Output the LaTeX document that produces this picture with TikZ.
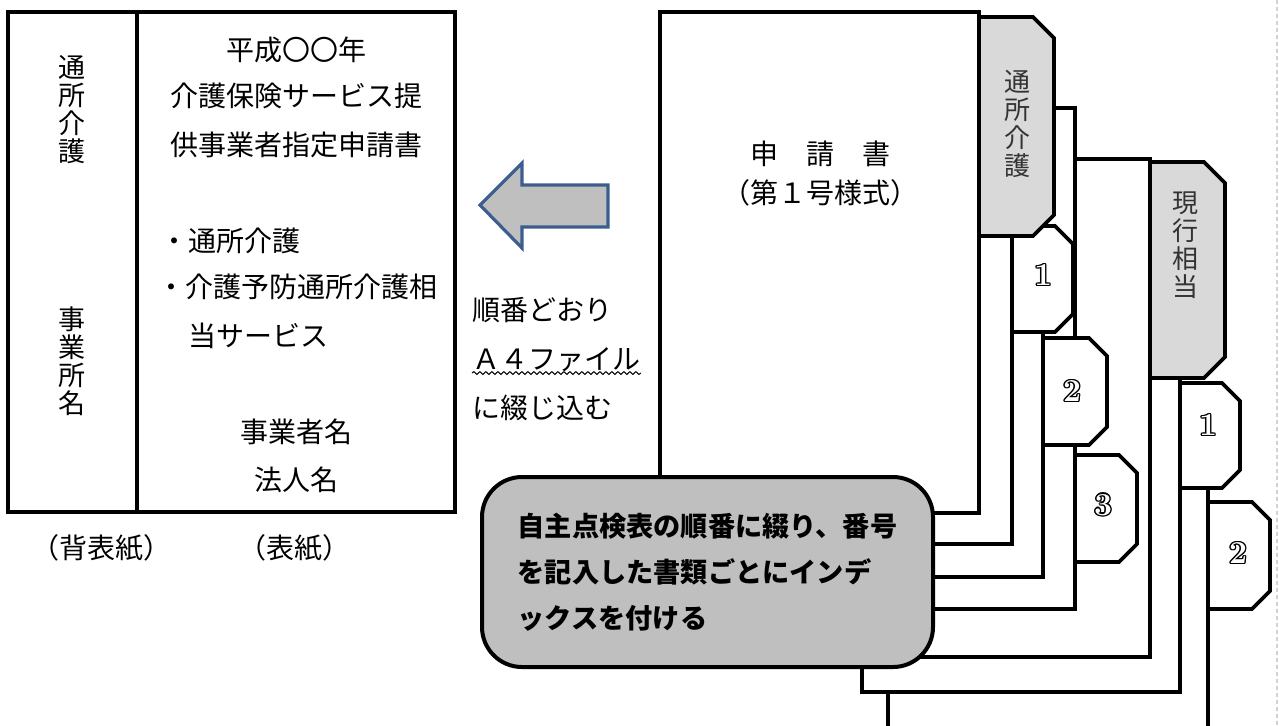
\documentclass[tikz,border=0pt]{standalone}
\usepackage{fontspec}
\newfontfamily\jp{Noto Sans CJK JP}
\usetikzlibrary{decorations.pathmorphing}
\definecolor{tabgray}{rgb}{.85,.85,.85}
\definecolor{notegray}{rgb}{.75,.75,.75}
\definecolor{arrowblue}{rgb}{.23,.37,.56}
\definecolor{tabink}{rgb}{.2,.2,.2}
% hollow digits for the small index tabs
\newcommand{\hollow}[1]{\leavevmode\rlap{\kern.7pt#1}\rlap{\kern-.7pt#1}%
  \rlap{\raisebox{.7pt}{#1}}\rlap{\raisebox{-.7pt}{#1}}%
  \rlap{\kern.5pt\raisebox{.5pt}{#1}}\rlap{\kern-.5pt\raisebox{.5pt}{#1}}%
  \rlap{\kern.5pt\raisebox{-.5pt}{#1}}\rlap{\kern-.5pt\raisebox{-.5pt}{#1}}%
  \textcolor{white}{#1}}
% tab with cut corners: [fill] left top right bottom cut
\newcommand{\idxtab}[6][white]{%
  \draw[line width=1.8pt, fill=#1] (#2,#3) -- ({#4-#6},#3) -- (#4,{#3+#6})
    -- (#4,{#5-#6}) -- ({#4-#6},#5) -- (#2,#5) -- cycle;}

\begin{document}
\begin{tikzpicture}[x=0.5pt, y=-0.5pt,
  every node/.style={inner sep=0pt},
  jptext/.style={font=\jp\fontsize{14}{14}\selectfont},
  spine/.style={font=\jp\fontsize{13.5}{14}\selectfont, align=center},
  tabtext/.style={font=\jp\fontsize{13}{14}\selectfont, align=center, text=tabink},
  digit/.style={font=\bfseries\fontsize{16}{16}\selectfont},
  sheet/.style={fill=white, draw=black, line width=1.8pt},
  note/.style={draw=black, fill=notegray, line width=2pt, rounded corners=20pt,
    font=\jp\bfseries\fontsize{13.6}{23}\selectfont, align=left,
    minimum width=225.5pt, minimum height=95pt}]
\clip (0,0) rectangle (1279,725);
% \draw [help lines,color=green] (0,0) grid[step=50] (1279,725);
%%%%%%%%% spine and cover
\draw [line width=2pt] (8,12) rectangle (455,512);
\draw [line width=2pt] (137,12) -- (137,512);
\node [spine] (spinetop) at (72,110) {通\\所\\介\\護};
\node [spine] (spinebot) at (72,361) {事\\業\\所\\名};
\node [jptext] (year) at (296,50) {平成〇〇年};
\node [jptext] (title1) at (296,96) {介護保険サービス提};
\node [jptext] (title2) at (296,145) {供事業者指定申請書};
\node [jptext, anchor=west] (svc1) at (160,241) {・通所介護};
\node [jptext, anchor=west] (svc2) at (157,287) {・介護予防通所介護相};
\node [jptext, anchor=west] (svc3) at (160,336) {　当サービス};
\node [jptext] (org1) at (296,432) {事業者名};
\node [jptext] (org2) at (296,480) {法人名};
\node [jptext] (spinelabel) at (102,548) {（背表紙）};
\node [jptext] (coverlabel) at (294,548) {（表紙）};
%%%%%%%%% arrow and file note
\draw [arrowblue, fill=notegray, line width=1.6pt] (608,185) -- (522,185) -- (522,163)
  -- (480,205) -- (522,248) -- (522,227) -- (608,227) -- cycle;
\node [jptext, anchor=west] (step1) at (472,310) {順番どおり};
\node [jptext, anchor=west] (step2) at (472,360) {Ａ４ファイル};
\node [jptext, anchor=west] (step3) at (472,408) {に綴じ込む};
\draw [decorate, decoration={snake, amplitude=.7pt, segment length=3pt}, line width=.5pt]
  ([yshift=-6.5pt]step2.west) -- ([yshift=-6.5pt]step2.east);
%%%%%%%%% stack of sheets, back to front
\draw [sheet] (888,400) rectangle (1208,760);
\idxtab{1208}{502}{1270}{609}{18}
\draw [sheet] (862,200) rectangle (1180,692);
\idxtab{1180}{383}{1240}{488}{18}
\draw [sheet] (680,159) rectangle (1150,657);
\idxtab[tabgray]{1150}{162}{1225}{378}{21}
\draw [sheet] (680,108) rectangle (1075,609);
\idxtab{1075}{455}{1137}{562}{18}
\draw [sheet] (680,80) rectangle (1043,577);
\idxtab{1043}{338}{1107}{445}{18}
\draw [sheet] (680,60) rectangle (1012,544);
\idxtab{1012}{226}{1073}{332}{18}
\draw [sheet] (680,17) rectangle (979,500);
\idxtab[tabgray]{979}{17}{1054}{236}{21}
\draw [sheet] (660,12) rectangle (979,513);
\node [tabtext] (tabday) at (1017,124) {通\\所\\介\\護};
\node [tabtext] (tabcur) at (1185,245) {現\\行\\相\\当};
\node [digit] (d1) at (1043,275) {\hollow{1}};
\node [digit] (d2) at (1072,391) {\hollow{2}};
\node [digit] (d3) at (1103,505) {\hollow{3}};
\node [digit] (e1) at (1208,425) {\hollow{1}};
\node [digit] (e2) at (1238,553) {\hollow{2}};
\node [jptext] (form) at (820,154) {申　請　書};
\node [jptext] (formno) at (820,193) {（第１号様式）};
%%%%%%%%% note
\node [note] (note) at (707.5,572) {自主点検表の順番に綴り、番号\\を記入した書類ごとにインデ\\ックスを付ける};
\draw [gray!35, line width=.6pt, dash pattern=on 2pt off 1.5pt] (1277,0) -- (1277,725);
\end{tikzpicture}
\end{document}
